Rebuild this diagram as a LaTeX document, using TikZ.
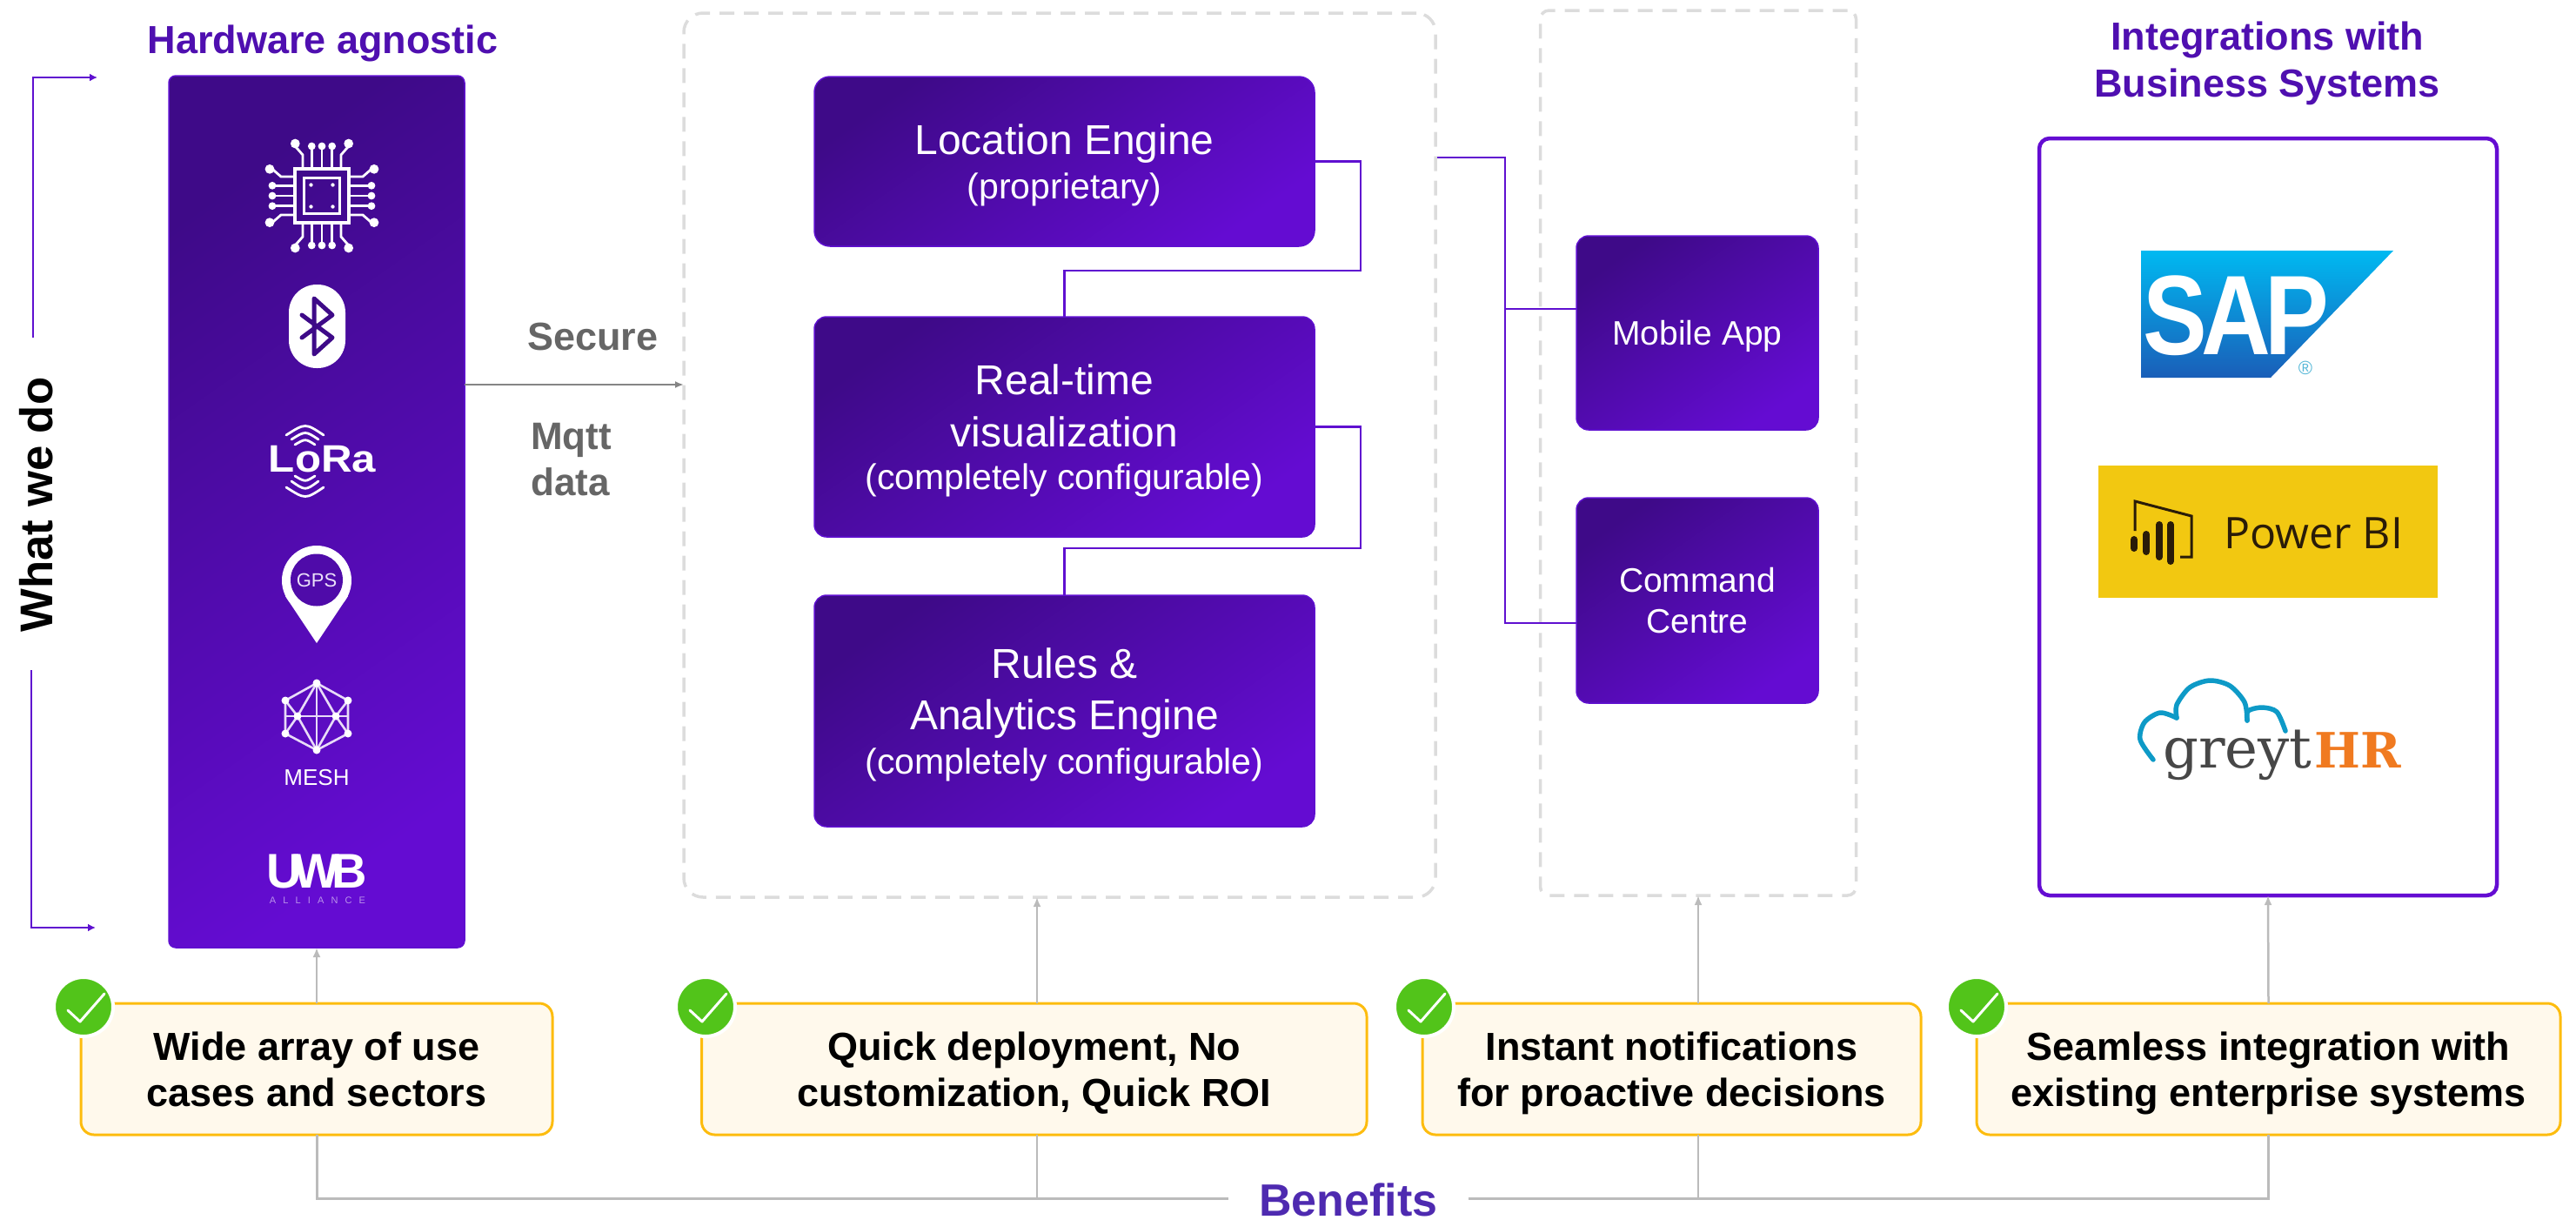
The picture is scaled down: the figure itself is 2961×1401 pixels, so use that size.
\documentclass[tikz,border=0pt]{standalone}
\usepackage{fontspec}
\setmainfont{Liberation Sans}
\newfontfamily\slabfont{DejaVu Serif}
\newfontfamily\biofont{Open Sans}
\usetikzlibrary{arrows.meta,calc}
\definecolor{pdark}{HTML}{3E0A88}
\definecolor{plight}{HTML}{640CD2}
\definecolor{pline}{HTML}{5F10D0}
\definecolor{ptitle}{HTML}{4F0FB0}
\definecolor{bentitle}{HTML}{4E2AB0}
\definecolor{dashgray}{HTML}{DCDCDC}
\definecolor{conngray}{HTML}{BBBBBB}
\definecolor{textgray}{HTML}{666666}
\definecolor{cream}{HTML}{FFF9EC}
\definecolor{amber}{HTML}{FDBC0E}
\definecolor{okgreen}{HTML}{52C41A}
\definecolor{cloud}{HTML}{0E9AC7}
\definecolor{hrorange}{HTML}{F07A20}
\definecolor{biyellow}{HTML}{F2C811}
\definecolor{bidark}{HTML}{2A1C08}
\newcommand{\fsz}[2]{\fontsize{#1}{#2}\selectfont}
\tikzset{
 pbox/.style={rectangle,rounded corners=14,inner sep=0,outer sep=0,draw=pline,line width=1.5,
   top color=pdark,bottom color=plight,shading angle=35,text=white,align=center,text depth=-5pt},
 dashbox/.style={rectangle,inner sep=0,outer sep=0,draw=dashgray,line width=3.5,dash pattern=on 17 off 11},
 benbox/.style={rectangle,rounded corners=15,inner sep=0,outer sep=0,draw=amber,line width=3,fill=cream,
   align=center,text=black,text depth=0pt,font=\bfseries\fsz{45}{53}},
 badge/.style={circle,minimum size=68,inner sep=0,fill=okgreen,draw=white,line width=4},
 chk/.style={draw=white,line width=3,line cap=round,line join=round},
 plink/.style={draw=pline,line width=2.5},
 bracket/.style={draw=pline,line width=2.5,-{Latex[length=9,width=9]}},
 garrow/.style={draw=conngray,line width=2.5,-{Latex[length=11,width=9]}},
 gline/.style={draw=conngray,line width=3},
 htitle/.style={text=ptitle,font=\bfseries\fsz{45}{54},align=center,inner sep=0},
 icon/.style={draw=white,line width=2.8,line cap=round},
}
\begin{document}
\begin{tikzpicture}[x=1pt,y=-1pt]
\useasboundingbox (0,0) rectangle (2961,1401);
% titles
\node[htitle,anchor=base] (thw) at (371,61) {Hardware agnostic};
\node[htitle] (tint) at (2606,73) {Integrations with\\Business Systems};
\node[rotate=90,anchor=base,inner sep=0,font=\bfseries\fsz{52.7}{60}] (wwd) at (60,580) {What we do};
% bracket
\coordinate (bt) at (38,388); \coordinate (btt) at (38,89); \coordinate (bte) at (112,89);
\coordinate (bb) at (36,770); \coordinate (bbb) at (36,1066); \coordinate (bbe) at (110,1066);
\draw[bracket] (bt) -- (btt) -- (bte);
\draw[bracket] (bb) -- (bbb) -- (bbe);
% boxes
\node[pbox,rounded corners=8,minimum width=340,minimum height=1002] (hw) at (364,588) {};
\node[dashbox,rounded corners=22,minimum width=864,minimum height=1016] (m) at (1218,523) {};
\node[dashbox,rounded corners=10,minimum width=363,minimum height=1017] (a) at (1952,520.5) {};
\node[pbox,rounded corners=18,minimum width=575,minimum height=195,font=\fsz{48}{51}] (le) at (1223.5,185.5)
  {Location Engine\\\fsz{41}{51}(proprietary)};
\node[pbox,minimum width=575,minimum height=253,font=\fsz{48}{60}] (rt) at (1223.5,490.5)
  {Real-time\\visualization\\[-11pt]\fsz{41}{49}(completely configurable)};
\node[pbox,minimum width=575,minimum height=266,font=\fsz{48}{58.5}] (ru) at (1223.5,817)
  {Rules \&\\Analytics Engine\\[-7.5pt]\fsz{41}{51}(completely configurable)};
\node[pbox,minimum width=278,minimum height=223,font=\fsz{39}{47}] (ma) at (1951,382.5) {Mobile App};
\node[pbox,minimum width=278,minimum height=236,font=\fsz{39}{47}] (cc) at (1951,690) {Command\\Centre};
\node[rectangle,rounded corners=12,inner sep=0,outer sep=0,draw=plight,line width=4.5,fill=white,minimum width=526,minimum height=870] (ib) at (2607,594) {};
% links between engines
\draw[plink] (le.east) -| (1564,311) -| (rt.north);
\draw[plink] (rt.east) -| (1564,630) -| (ru.north);
\coordinate (ms) at (1652,181);
\coordinate (mj1) at (1730,355);
\coordinate (mj2) at (1730,716);
\draw[plink] (ms) -| (mj2) -- (cc.west |- mj2);
\draw[plink] (mj1) -- (ma.west |- mj1);
% secure
\coordinate (sa) at (0,442);
\draw[draw=textgray!80,line width=2.5,-{Latex[length=10,width=8]}] (hw.east |- sa) -- (m.west |- sa);
\node[anchor=base west,inner sep=0,text=textgray,font=\bfseries\fsz{45}{53}] (sec) at (606,402) {Secure};
\node[anchor=base west,inner sep=0,text=textgray,font=\bfseries\fsz{44}{53},align=left] (mq) at (610,569) {Mqtt\\data};
% benefit boxes
\node[benbox,minimum width=542,minimum height=151] (b1) at (364,1228.5) {Wide array of use\\cases and sectors};
\node[benbox,minimum width=764.5,minimum height=151] (b2) at (1188.75,1228.5) {Quick deployment, No\\customization, Quick ROI};
\node[benbox,minimum width=573,minimum height=151] (b3) at (1921.5,1228.5) {Instant notifications\\for proactive decisions};
\node[benbox,minimum width=671,minimum height=151] (b4) at (2607.5,1228.5) {Seamless integration with\\existing enterprise systems};
\foreach \n/\xx in {c1/96,c2/811,c3/1637,c4/2272}{
  \node[badge] (\n) at (\xx,1157) {};
  \draw[chk] ([shift={(-18,4)}]\n.center) -- ([shift={(-4,17)}]\n.center) -- ([shift={(24,-15)}]\n.center);
}
% benefits trunk
\node[anchor=base,inner xsep=35,inner ysep=0,text=bentitle,font=\bfseries\fsz{52}{60}] (ben) at (1550,1397) {Benefits};
\coordinate (x2) at (1192,1377.5);
\coordinate (x3) at (1952,1377.5);
\draw[gline] (b1.south) |- (ben.west |- x2);
\draw[gline] (ben.east |- x2) -| (b4.south);
\draw[gline,line width=2.5] (x2) -- (b2.south -| x2);
\draw[gline,line width=2.5] (x3) -- (b3.south -| x3);
\draw[garrow] (b1.north) -- (hw.south);
\draw[garrow] (b2.north -| x2) -- (m.south -| x2);
\draw[garrow] (b3.north -| x3) -- (a.south -| x3);
\draw[garrow] (b4.north) -- (ib.south);
% chip icon
\begin{scope}[shift={(370,225)}]
 \draw[draw=white,line width=4] (-31,-31) rectangle (31,31);
 \draw[draw=white,line width=3.4] (-20.5,-20.5) rectangle (20.5,20.5);
 \foreach \p/\q in {-12.5/-12.5,12.5/-12.5,-12.5/12.5,12.5/12.5}{\fill[white] (\p,\q) circle (2.2);}
 \foreach \a in {0,90,180,270}{
  \begin{scope}[rotate=\a]
   \draw[icon] (-22,-32) -- (-22,-47) -- (-30.7,-57);
   \draw[icon] (22,-32) -- (22,-47) -- (30.7,-57);
   \foreach \t in {-11.7,0,11.7}{\draw[icon] (\t,-32) -- (\t,-53); \fill[white] (\t,-57) circle (4.4);}
   \fill[white] (-30.7,-60) circle (5.4);
   \fill[white] (30.7,-60) circle (5.4);
  \end{scope}
 }
\end{scope}
% bluetooth icon
\fill[white,rounded corners=32] (332,327) rectangle (397,423);
\draw[draw=pdark,line width=5,line join=round,line cap=round] (347,362) -- (382,388) -- (361,407) -- (361,343) -- (382,362) -- (347,388);
% LoRa icon
\node[anchor=base,inner sep=0,text=white,font=\bfseries\fsz{44}{50},xscale=1.12] (lora) at (370.5,542) {LoRa};
\draw[icon] (329,500) .. controls (351,486) .. (372,500);
\draw[icon] (335,505) .. controls (351,495) .. (366,505);
\draw[icon] (339,511) .. controls (351,504) .. (362,511);
\draw[icon] (339,547) .. controls (351,554) .. (362,547);
\draw[icon] (335,553) .. controls (351,564) .. (366,553);
\draw[icon] (329,560) .. controls (351,574) .. (372,560);
% GPS icon
\fill[white] (364,667) circle (40);
\fill[white] (328,685) -- (364,739) -- (400,685) -- cycle;
\fill[pdark!55!plight] (364,666.5) circle (30);
\node[inner sep=0,text=white!88!plight,font=\fsz{22}{26}] (gps) at (364,667) {GPS};
% mesh icon
\begin{scope}[draw=white!85!plight,line width=2.6]
 \coordinate (mT) at (364,785); \coordinate (mRT) at (400,805); \coordinate (mRB) at (400,843);
 \coordinate (mB) at (364,862); \coordinate (mLB) at (328,843); \coordinate (mLT) at (328,805);
 \coordinate (mIL) at (342,823); \coordinate (mIR) at (386,823);
 \coordinate (mLM) at (328,823); \coordinate (mRM) at (400,823);
 \draw (mT) -- (mRT) -- (mRB) -- (mB) -- (mLB) -- (mLT) -- cycle;
 \draw (mT) -- (mB); \draw (mLM) -- (mRM);
 \draw (mIL) -- (mT); \draw (mIL) -- (mB); \draw (mIR) -- (mT); \draw (mIR) -- (mB);
 \draw (mIL) -- (mLT); \draw (mIL) -- (mLB); \draw (mIR) -- (mRT); \draw (mIR) -- (mRB);
 \foreach \c in {mT,mRT,mRB,mB,mLB,mLT,mIL,mIR}{\fill[white] (\c) circle (4.5);}
\end{scope}
\node[anchor=center,inner sep=0,text=white,font=\fsz{26}{30}] (mesh) at (364,894) {MESH};
% UWB
\node[anchor=base,inner sep=0,text=white,font=\bfseries\fsz{56}{60}\addfontfeature{LetterSpace=-16}] (uwb) at (364,1020) {UWB};
\node[anchor=base,inner sep=0,text=white!55!plight,font=\fsz{11}{13}\addfontfeature{LetterSpace=74}] (all) at (365,1038) {ALLIANCE};
% SAP
\shade[top color={rgb,255:red,0;green,185;blue,241},bottom color={rgb,255:red,26;green,94;blue,184}]
  (2461,288) -- (2751,288) -- (2610,434) -- (2461,434) -- cycle;
\node[inner sep=0,text=white,font=\bfseries\fsz{130}{134}\addfontfeature{LetterSpace=-6},xscale=.85,anchor=base] (sap) at (2570,407) {SAP};
\node[inner sep=0,text=cloud!70!white,font=\fsz{22}{24}] (reg) at (2650,423) {®};
% Power BI
\node[rectangle,fill=biyellow,inner sep=0,minimum width=390,minimum height=152] (pbi) at (2607,611) {};
\node[anchor=base west,inner sep=0,text=bidark,font=\biofont\fsz{50}{54}] (pbt) at (2556,630) {Power BI};
\draw[draw=bidark,line width=3] (2454,610) -- (2454,576) -- (2519,593) -- (2519,640) -- (2506,640);
\foreach \xb/\ya/\yb in {2453/620/630,2467/614/634,2482/603/640,2495/603/645}{
  \draw[draw=bidark,line width=8,line cap=round] (\xb,\ya) -- (\xb,\yb);
}
% greytHR
\draw[draw=cloud,line width=5.5,line cap=round,line join=round] plot[smooth] coordinates {(2475,873) (2460,850) (2465,830) (2483,819) (2502,825)};
\draw[draw=cloud,line width=5.5,line cap=round] plot[smooth] coordinates {(2502,825) (2502,810) (2517,790) (2540,782) (2563,788) (2580,807) (2583,828)};
\draw[draw=cloud,line width=5.5,line cap=round] plot[smooth] coordinates {(2583,828) (2584,817) (2600,813) (2617,818) (2627,840)};
\node[anchor=base west,inner sep=0,text=black!72,font=\slabfont\fsz{64}{70}] (gry) at (2486,882) {greyt};
\node[anchor=base west,inner sep=0,text=hrorange,font=\slabfont\bfseries\fsz{56}{60}] (hr) at (2660,882) {HR};
\end{tikzpicture}
\end{document}
